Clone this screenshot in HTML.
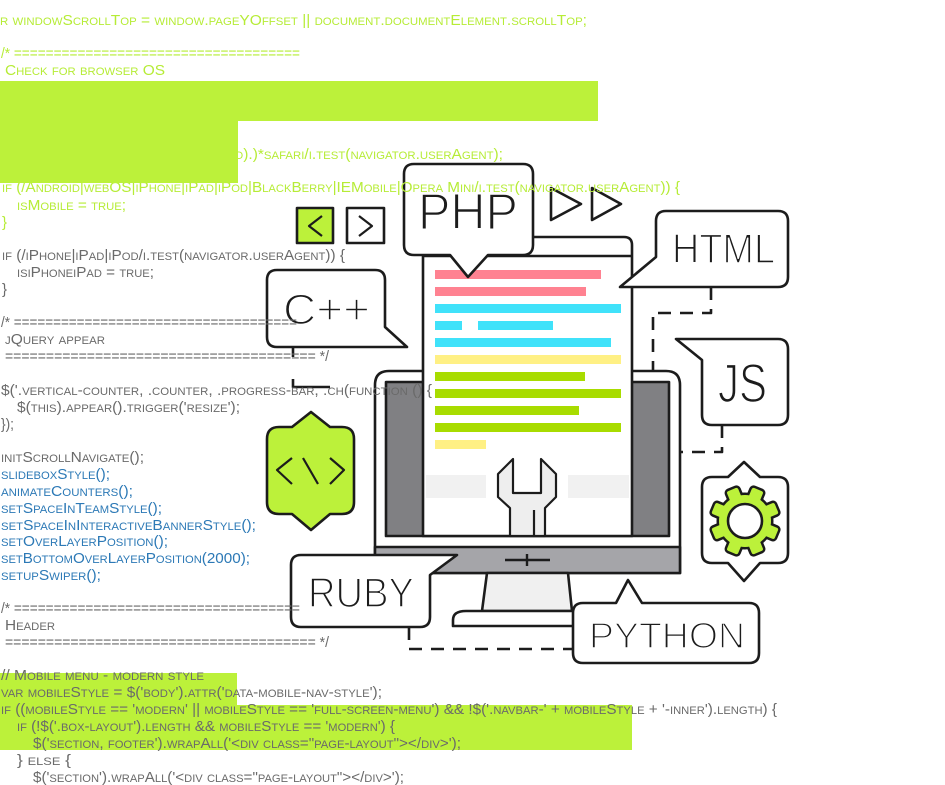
<!DOCTYPE html>
<html>
<head>
<meta charset="utf-8">
<style>
  html,body{margin:0;padding:0;background:#fff;}
  svg{display:block;}
  .code{font-family:"Liberation Sans",Arial,sans-serif;font-size:15px;font-variant:small-caps;}
  .lime{fill:#b6ec36;}
  .grey{fill:#6a6a6a;}
  .blue{fill:#2c79b6;}
  .lbl{font-family:"Liberation Sans",Arial,sans-serif;fill:#1c1c1c;stroke:#fff;stroke-width:1.6px;}
</style>
</head>
<body>
<svg width="945" height="785" viewBox="0 0 945 785" xmlns="http://www.w3.org/2000/svg">
  <rect x="0" y="0" width="945" height="785" fill="#fff"/>

  <!-- bottom highlight blocks (behind text) -->
  <rect x="0" y="673" width="237" height="33" fill="#bcf13a"/>
  <rect x="0" y="705" width="632" height="45" fill="#bcf13a"/>

  <!-- ================= ILLUSTRATION ================= -->
  <g stroke="#1c1c1c" stroke-width="2.6" fill="none" stroke-linejoin="round" stroke-linecap="butt">
    <!-- dashed connectors -->
    <g stroke-dasharray="13 9">
      <path d="M711,287 V313 H653 V371"/>
      <path d="M722,425 V452 H680"/>
      <path d="M409,627 V649 H573"/>
    </g>
    <path d="M293,347 V357"/>
    <path d="M293,379 V387 H330"/>

    <!-- monitor -->
    <path d="M375,573 V385 Q375,371 389,371 H666 Q680,371 680,385 V573 Z" fill="#fff"/>
    <rect x="375" y="547" width="305" height="26" fill="#a5a5a9"/>
    <rect x="386" y="382" width="283" height="154" fill="#808083"/>
    <!-- chin plus -->
    <path d="M505,560 H550 M527,554 V566" stroke-width="2.4"/>

    <!-- document -->
    <path d="M423,536 V245 Q423,237 431,237 H624 Q632,237 632,245 V536 Z" fill="#fff"/>
    <path d="M423,256 H632"/>
  </g>

  <!-- document bars -->
  <g stroke="none">
    <rect x="435" y="270" width="166" height="9" fill="#ff8291"/>
    <rect x="435" y="287" width="151" height="9" fill="#ff8291"/>
    <rect x="435" y="304" width="186" height="9" fill="#40e2fa"/>
    <rect x="435" y="321" width="27" height="9" fill="#40e2fa"/>
    <rect x="478" y="321" width="75" height="9" fill="#40e2fa"/>
    <rect x="435" y="338" width="176" height="9" fill="#40e2fa"/>
    <rect x="435" y="355" width="186" height="9" fill="#fff084"/>
    <rect x="435" y="372" width="150" height="9" fill="#a8dc00"/>
    <rect x="435" y="389" width="186" height="9" fill="#a8dc00"/>
    <rect x="435" y="406" width="144" height="9" fill="#a8dc00"/>
    <rect x="435" y="423" width="186" height="9" fill="#a8dc00"/>
    <rect x="435" y="440" width="51" height="9" fill="#fff084"/>
    <rect x="426" y="475" width="60" height="23" fill="#f1f1f1"/>
    <rect x="568" y="475" width="61" height="23" fill="#f1f1f1"/>
  </g>

  <g stroke="#1c1c1c" stroke-width="2.6" fill="none" stroke-linejoin="round">
    <!-- wrench -->
    <path d="M513,459 L498,474 V497 L510,508 V536 H545 V508 L556,497 V474 L541,459 V493 H513 Z" fill="#eeeeee" stroke-width="2.2"/>
    <path d="M534,510 V536" stroke-width="2.2"/>

    <!-- stand & base -->
    <path d="M487,573 H568 L572,611 H482 Z" fill="#f0f0f0"/>
    <path d="M453,626 V620 Q453,611 466,611 H600 V626 Z" fill="#fff"/>

    <!-- PHP bubble -->
    <path d="M414,164 H523 Q533,164 533,174 V245 Q533,255 523,255 H488 L468,277 L450,255 H414 Q404,255 404,245 V174 Q404,164 414,164 Z" fill="#fff"/>
    <!-- HTML bubble -->
    <path d="M666,211 H778 Q788,211 788,221 V277 Q788,287 778,287 H620 L656,257 V221 Q656,211 666,211 Z" fill="#fff"/>
    <!-- JS bubble -->
    <path d="M778,339 Q788,339 788,349 V415 Q788,425 778,425 H712 Q702,425 702,415 V360 L676,339 Z" fill="#fff"/>
    <!-- C++ bubble -->
    <path d="M277,270 H375 Q385,270 385,280 V327 L407,347 H277 Q267,347 267,337 V280 Q267,270 277,270 Z" fill="#fff"/>
    <!-- RUBY bubble -->
    <path d="M301,555 H457 L430,575 V617 Q430,627 420,627 H301 Q291,627 291,617 V565 Q291,555 301,555 Z" fill="#fff"/>
    <!-- PYTHON bubble -->
    <path d="M583,603 H616 L628,580 L642,603 H749 Q759,603 759,613 V653 Q759,663 749,663 H583 Q573,663 573,653 V613 Q573,603 583,603 Z" fill="#fff"/>

    <!-- nav buttons -->
    <rect x="297" y="208" width="36" height="35" fill="#bcf13a"/>
    <path d="M322,216 L309,226 L322,236" stroke-width="2.2"/>
    <rect x="347" y="208" width="37" height="35" fill="#fff"/>
    <path d="M359,216 L372,226 L359,236" stroke-width="2.2"/>

    <!-- play triangles -->
    <path d="M551,188 L581,204 L551,220 Z"/>
    <path d="M592,188 L621,204 L592,220 Z"/>

    <!-- code hexagon -->
    <path d="M311,412 L330,427 H342 Q354,427 354,439 V502 Q354,514 342,514 H330 L311,530 L292,514 H279 Q267,514 267,502 V439 Q267,427 279,427 H292 Z" fill="#bcf13a"/>
    <path d="M292,458 L277,470 L292,484 M303,458 L318,484 M330,458 L344,470 L330,484" stroke-width="2.2"/>

    <!-- gear hexagon -->
    <path d="M744,462 L760,477 H778 Q788,477 788,487 V553 Q788,563 778,563 H760 L744,581 L728,563 H712 Q702,563 702,553 V487 Q702,477 712,477 H728 Z" fill="#fff"/>
  </g>

  <!-- gear -->
  <g>
    <g fill="#1c1c1c" stroke="#1c1c1c" stroke-width="5" stroke-linejoin="round">
      <circle cx="745" cy="521" r="26"/>
      <rect x="739" y="487" width="12" height="16" rx="2" transform="rotate(22.5 745 521)"/>
      <rect x="739" y="487" width="12" height="16" rx="2" transform="rotate(67.5 745 521)"/>
      <rect x="739" y="487" width="12" height="16" rx="2" transform="rotate(112.5 745 521)"/>
      <rect x="739" y="487" width="12" height="16" rx="2" transform="rotate(157.5 745 521)"/>
      <rect x="739" y="487" width="12" height="16" rx="2" transform="rotate(202.5 745 521)"/>
      <rect x="739" y="487" width="12" height="16" rx="2" transform="rotate(247.5 745 521)"/>
      <rect x="739" y="487" width="12" height="16" rx="2" transform="rotate(292.5 745 521)"/>
      <rect x="739" y="487" width="12" height="16" rx="2" transform="rotate(337.5 745 521)"/>
    </g>
    <g fill="#bcf13a" stroke="none">
      <circle cx="745" cy="521" r="26"/>
      <rect x="739" y="487" width="12" height="16" rx="2" transform="rotate(22.5 745 521)"/>
      <rect x="739" y="487" width="12" height="16" rx="2" transform="rotate(67.5 745 521)"/>
      <rect x="739" y="487" width="12" height="16" rx="2" transform="rotate(112.5 745 521)"/>
      <rect x="739" y="487" width="12" height="16" rx="2" transform="rotate(157.5 745 521)"/>
      <rect x="739" y="487" width="12" height="16" rx="2" transform="rotate(202.5 745 521)"/>
      <rect x="739" y="487" width="12" height="16" rx="2" transform="rotate(247.5 745 521)"/>
      <rect x="739" y="487" width="12" height="16" rx="2" transform="rotate(292.5 745 521)"/>
      <rect x="739" y="487" width="12" height="16" rx="2" transform="rotate(337.5 745 521)"/>
    </g>
    <circle cx="745" cy="521" r="17" fill="#fff" stroke="#1c1c1c" stroke-width="2.6"/>
  </g>

  <!-- bubble labels -->
  <text class="lbl" x="418" y="229" font-size="51" textLength="100" lengthAdjust="spacingAndGlyphs">PHP</text>
  <text class="lbl" x="672" y="263" font-size="42" textLength="103" lengthAdjust="spacingAndGlyphs">HTML</text>
  <text class="lbl" x="718" y="402" font-size="55" textLength="49" lengthAdjust="spacingAndGlyphs">JS</text>
  <text class="lbl" x="283" y="324" font-size="43" textLength="87" lengthAdjust="spacingAndGlyphs">C++</text>
  <text class="lbl" x="308" y="607" font-size="42" textLength="106" lengthAdjust="spacingAndGlyphs">RUBY</text>
  <text class="lbl" x="589" y="648" font-size="36" textLength="156" lengthAdjust="spacingAndGlyphs">PYTHON</text>

  <!-- ================= CODE TEXT ================= -->
  <g class="code">
    <text class="lime" x="0" y="25" textLength="587" lengthAdjust="spacingAndGlyphs">r windowScrollTop = window.pageYOffset || document.documentElement.scrollTop;</text>
    <text class="lime" x="1" y="58" textLength="299" lengthAdjust="spacingAndGlyphs">/* ====================================</text>
    <text class="lime" x="5" y="75" textLength="160" lengthAdjust="spacingAndGlyphs">Check for browser OS</text>
    <text class="lime" x="235" y="159" textLength="268" lengthAdjust="spacingAndGlyphs">d).)*safari/i.test(navigator.userAgent);</text>
    <text class="lime" x="2" y="192" textLength="678" lengthAdjust="spacingAndGlyphs">if (/Android|webOS|iPhone|iPad|iPod|BlackBerry|IEMobile|Opera Mini/i.test(navigator.userAgent)) {</text>
    <text class="lime" x="17" y="210" textLength="109" lengthAdjust="spacingAndGlyphs">isMobile = true;</text>
    <text class="lime" x="2" y="227">}</text>

    <text class="grey" x="2" y="260" textLength="343" lengthAdjust="spacingAndGlyphs">if (/iPhone|iPad|iPod/i.test(navigator.userAgent)) {</text>
    <text class="grey" x="17" y="277" textLength="137" lengthAdjust="spacingAndGlyphs">isiPhoneiPad = true;</text>
    <text class="grey" x="2" y="294">}</text>
    <text class="grey" x="1" y="327" textLength="296" lengthAdjust="spacingAndGlyphs">/* ====================================</text>
    <text class="grey" x="5" y="344" textLength="100" lengthAdjust="spacingAndGlyphs">jQuery appear</text>
    <text class="grey" x="5" y="361" textLength="324" lengthAdjust="spacingAndGlyphs">====================================== */</text>
    <text class="grey" x="1" y="395" textLength="431" lengthAdjust="spacingAndGlyphs">$('.vertical-counter, .counter, .progress-bar, .ch(function () {</text>
    <text class="grey" x="17" y="412" textLength="223" lengthAdjust="spacingAndGlyphs">$(this).appear().trigger('resize');</text>
    <text class="grey" x="1" y="429" textLength="13" lengthAdjust="spacingAndGlyphs">});</text>

    <text class="grey" x="1" y="462" textLength="143" lengthAdjust="spacingAndGlyphs">initScrollNavigate();</text>
    <text class="blue" x="1" y="479" textLength="109" lengthAdjust="spacingAndGlyphs">slideboxStyle();</text>
    <text class="blue" x="1" y="496" textLength="132" lengthAdjust="spacingAndGlyphs">animateCounters();</text>
    <text class="blue" x="1" y="513" textLength="161" lengthAdjust="spacingAndGlyphs">setSpaceInTeamStyle();</text>
    <text class="blue" x="1" y="530" textLength="255" lengthAdjust="spacingAndGlyphs">setSpaceInInteractiveBannerStyle();</text>
    <text class="blue" x="1" y="546" textLength="167" lengthAdjust="spacingAndGlyphs">setOverLayerPosition();</text>
    <text class="blue" x="1" y="563" textLength="249" lengthAdjust="spacingAndGlyphs">setBottomOverLayerPosition(2000);</text>
    <text class="blue" x="1" y="580" textLength="100" lengthAdjust="spacingAndGlyphs">setupSwiper();</text>

    <text class="grey" x="1" y="613" textLength="299" lengthAdjust="spacingAndGlyphs">/* ====================================</text>
    <text class="grey" x="5" y="630" textLength="50" lengthAdjust="spacingAndGlyphs">Header</text>
    <text class="grey" x="5" y="647" textLength="324" lengthAdjust="spacingAndGlyphs">====================================== */</text>
    <text class="grey" x="1" y="680" textLength="203" lengthAdjust="spacingAndGlyphs">// Mobile menu - modern style</text>
    <text class="grey" x="1" y="697" textLength="381" lengthAdjust="spacingAndGlyphs">var mobileStyle = $('body').attr('data-mobile-nav-style');</text>
    <text class="grey" x="1" y="714" textLength="776" lengthAdjust="spacingAndGlyphs">if ((mobileStyle == 'modern' || mobileStyle == 'full-screen-menu') &amp;&amp; !$('.navbar-' + mobileStyle + '-inner').length) {</text>
    <text class="grey" x="17" y="731" textLength="378" lengthAdjust="spacingAndGlyphs">if (!$('.box-layout').length &amp;&amp; mobileStyle == 'modern') {</text>
    <text class="grey" x="33" y="748" textLength="428" lengthAdjust="spacingAndGlyphs">$('section, footer').wrapAll('&lt;div class="page-layout"&gt;&lt;/div&gt;');</text>
    <text class="grey" x="17" y="765" textLength="54" lengthAdjust="spacingAndGlyphs">} else {</text>
    <text class="grey" x="33" y="782" textLength="371" lengthAdjust="spacingAndGlyphs">$('section').wrapAll('&lt;div class="page-layout"&gt;&lt;/div&gt;');</text>
  </g>

  <!-- top highlight blocks (cover text) -->
  <rect x="0" y="81" width="598" height="40" fill="#bcf13a"/>
  <rect x="0" y="120" width="238" height="63" fill="#bcf13a"/>
</svg>
</body>
</html>
